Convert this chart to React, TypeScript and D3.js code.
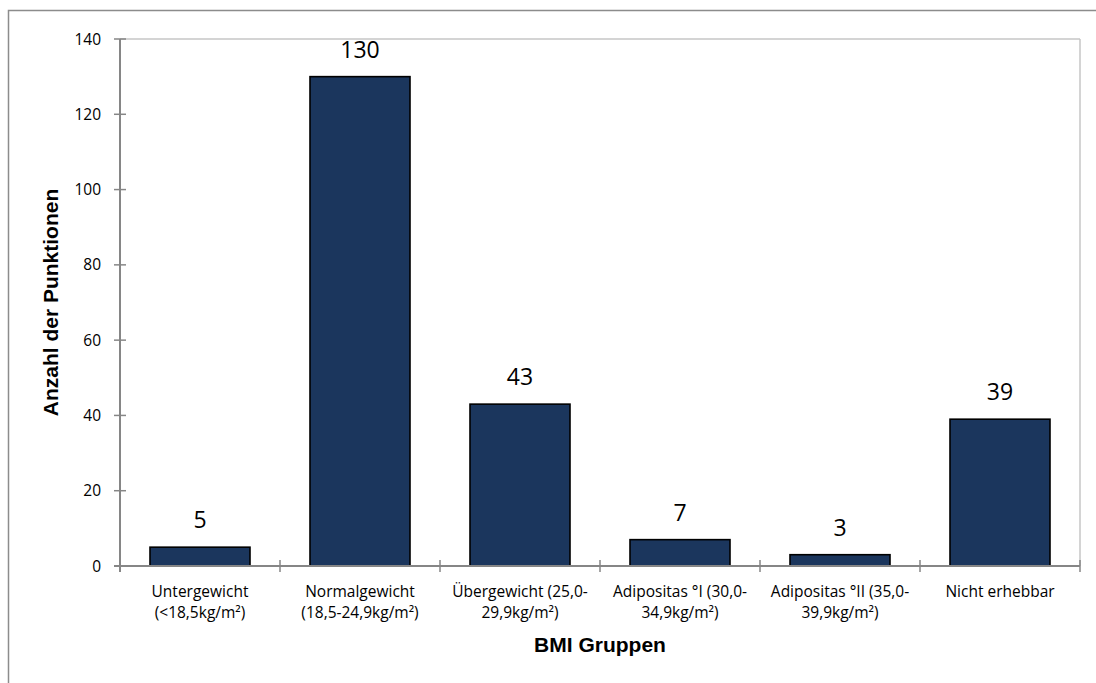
import React from "react";
import * as d3 from "d3";

// BMI groups (two-line category labels)
const categories: string[][] = [
  ["Untergewicht", "(<18,5kg/m²)"],
  ["Normalgewicht", "(18,5-24,9kg/m²)"],
  ["Übergewicht (25,0-", "29,9kg/m²)"],
  ["Adipositas °I (30,0-", "34,9kg/m²)"],
  ["Adipositas °II (35,0-", "39,9kg/m²)"],
  ["Nicht erhebbar"],
];
const counts: number[] = [5, 130, 43, 7, 3, 39];
const yTicks: number[] = [0, 20, 40, 60, 80, 100, 120, 140];

const W = 1096;
const H = 683;
const plot = { left: 120, right: 1080, top: 39, bottom: 566 };

const labelFont = "'Open Sans', sans-serif";
const titleFont = "Arial, 'Liberation Sans', sans-serif";

export default function App() {
  const keys = categories.map((_, i) => String(i));
  const x = d3
    .scaleBand<string>()
    .domain(keys)
    .range([plot.left, plot.right])
    .paddingInner(30 / 80)
    .paddingOuter(30 / 160);
  const band = d3.scaleBand<string>().domain(keys).range([plot.left, plot.right]);
  const y = d3.scaleLinear().domain([0, 140]).range([plot.bottom, plot.top]);

  const tickEdges = [...keys.map((k) => band(k)!), plot.right];

  return (
    <div style={{ position: "absolute", left: 0, top: 0, width: W, height: H, overflow: "hidden", background: "#fff" }}>
      <svg width={W} height={H} style={{ display: "block" }}>
        {/* outer chart frame */}
        <rect x={8.5} y={10.5} width={W + 20} height={H + 20} fill="#fff" stroke="#8c8c8c" strokeWidth={1.5} />

        {/* plot area border */}
        <line x1={plot.left} x2={plot.right} y1={plot.top} y2={plot.top} stroke="#c6c6c6" strokeWidth={1.5} />
        <line x1={plot.right} x2={plot.right} y1={plot.top} y2={plot.bottom} stroke="#c6c6c6" strokeWidth={1.5} />

        {/* bars */}
        {counts.map((v, i) => (
          <rect
            key={i}
            x={x(keys[i])!}
            y={y(v)}
            width={x.bandwidth()}
            height={y(0) - y(v)}
            fill="#1b365d"
            stroke="#000"
            strokeWidth={1.6}
          />
        ))}

        {/* value labels */}
        {counts.map((v, i) => (
          <text
            key={i}
            x={x(keys[i])! + x.bandwidth() / 2}
            y={y(v) - 19}
            textAnchor="middle"
            fontFamily={labelFont}
            fontSize={23}
            fill="#000"
          >
            {v}
          </text>
        ))}

        {/* y axis */}
        <line x1={plot.left} x2={plot.left} y1={plot.top} y2={plot.bottom + 6} stroke="#868686" strokeWidth={2} />
        {yTicks.map((t) => (
          <g key={t}>
            <line x1={plot.left - 6} x2={plot.left + 6} y1={y(t)} y2={y(t)} stroke="#868686" strokeWidth={1.5} />
            <text
              x={101}
              y={y(t)}
              dy="0.36em"
              textAnchor="end"
              fontFamily={labelFont}
              fontSize={15.5}
              fill="#000"
            >
              {t}
            </text>
          </g>
        ))}

        {/* x axis */}
        <line x1={plot.left - 6} x2={plot.right} y1={plot.bottom} y2={plot.bottom} stroke="#868686" strokeWidth={2} />
        {tickEdges.map((tx, i) => (
          <line key={i} x1={tx} x2={tx} y1={plot.bottom - 6} y2={plot.bottom + 6} stroke="#868686" strokeWidth={1.5} />
        ))}
        {categories.map((lines, i) => (
          <text
            key={i}
            x={band(keys[i])! + band.bandwidth() / 2}
            y={597}
            textAnchor="middle"
            fontFamily={labelFont}
            fontSize={15.5}
            fill="#000"
          >
            {lines.map((ln, j) => (
              <tspan key={j} x={band(keys[i])! + band.bandwidth() / 2} dy={j === 0 ? 0 : 21}>
                {ln}
              </tspan>
            ))}
          </text>
        ))}

        {/* axis titles */}
        <text
          x={(plot.left + plot.right) / 2}
          y={652}
          textAnchor="middle"
          fontFamily={titleFont}
          fontWeight="bold"
          fontSize={21}
          fill="#000"
        >
          BMI Gruppen
        </text>
        <text
          transform={`translate(58,${(plot.top + plot.bottom) / 2}) rotate(-90)`}
          textAnchor="middle"
          fontFamily={titleFont}
          fontWeight="bold"
          fontSize={21}
          fill="#000"
        >
          Anzahl der Punktionen
        </text>
      </svg>
    </div>
  );
}
